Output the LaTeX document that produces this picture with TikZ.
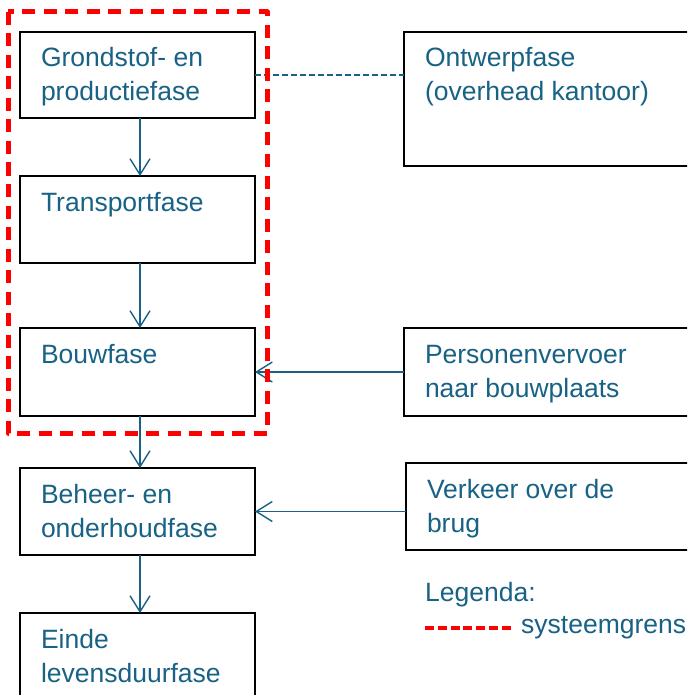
\documentclass[tikz,border=0pt]{standalone}
\usepackage{fontspec}
\setmainfont{Liberation Sans}
\usetikzlibrary{arrows.meta}
\definecolor{txtblue}{RGB}{23,98,133}
\definecolor{sysred}{RGB}{255,0,0}
\newcommand{\boxtxt}[3]{\parbox[t][#2][t]{#1}{\fontsize{26.5pt}{34pt}\selectfont\raggedright\rule{0pt}{35pt}#3}}
\begin{document}
\begin{tikzpicture}[x=1pt,y=-1pt,
  phasebox/.style={draw=black, line width=1.5pt, inner xsep=21pt, inner ysep=0pt, anchor=north west, text=txtblue, outer sep=0pt},
  arr/.style={draw=txtblue, line width=1.4pt, -{Straight Barb[length=16pt,width=20pt]}},
  plain/.style={text=txtblue, font=\fontsize{26.5pt}{34pt}\selectfont, inner sep=0pt, anchor=base west}]
\useasboundingbox (0,0) rectangle (687,695);
\clip (0,0) rectangle (687,695);
\fill[white] (0,0) rectangle (687,695);
% left column
\node[phasebox] (b1) at (20,32) {\boxtxt{193pt}{86pt}{Grondstof- en\\productiefase}};
\node[phasebox] (b2) at (20,176) {\boxtxt{193pt}{87pt}{Transportfase}};
\node[phasebox] (b3) at (20,328) {\boxtxt{193pt}{88pt}{Bouwfase}};
\node[phasebox] (b4) at (20,468) {\boxtxt{193pt}{87pt}{Beheer- en\\onderhoudfase}};
\node[phasebox] (b5) at (20,613) {\boxtxt{193pt}{90pt}{Einde\\levensduurfase}};
% right column
\node[phasebox] (ontw) at (404,32) {\boxtxt{258pt}{134pt}{Ontwerpfase\\(overhead kantoor)}};
\node[phasebox] (pers) at (404,328) {\boxtxt{258pt}{88pt}{Personenvervoer\\naar bouwplaats}};
\node[phasebox] (verk) at (406,463) {\boxtxt{258pt}{87pt}{Verkeer over de\\brug}};
% connectors
\draw[arr] ([xshift=2.5pt]b1.south) -- ([xshift=2.5pt]b2.north);
\draw[arr] ([xshift=2.5pt]b2.south) -- ([xshift=2.5pt]b3.north);
\draw[arr] ([xshift=2.5pt]b3.south) -- ([xshift=2.5pt]b4.north);
\draw[arr] ([xshift=2.5pt]b4.south) -- ([xshift=2.5pt]b5.north);
\draw[arr] (pers.west) -- (b3.east);
\draw[arr] (b4.east -| verk.west) -- (b4.east);
\draw[txtblue, line width=1.3pt, dash pattern=on 6pt off 3pt] (b1.east) -- (b1.east -| ontw.west);
% system boundary
\draw[sysred, line width=5pt, dash pattern=on 13pt off 8.5pt, line join=round] (8,12) rectangle (267,433);
% legend
\node[plain] (leg) at (425,601) {Legenda:};
\coordinate (l1) at (425,628);
\coordinate (l2) at (511,628);
\draw[sysred, line width=3.3pt, dash pattern=on 9pt off 3.8pt] (l1) -- (l2);
\node[plain] (sys) at (521,633) {systeemgrens};
\end{tikzpicture}
\end{document}
